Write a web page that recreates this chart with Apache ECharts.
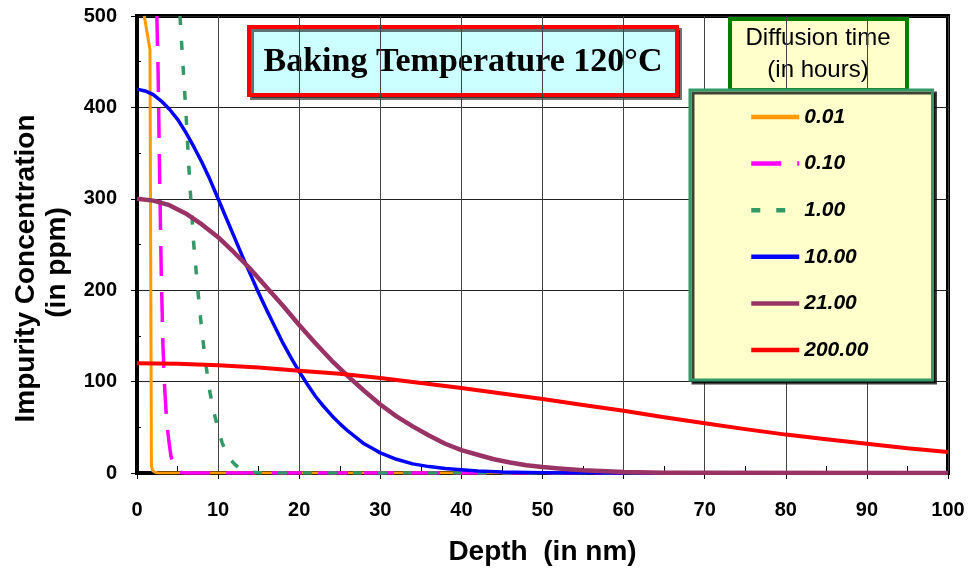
<!DOCTYPE html>
<html>
<head>
<meta charset="utf-8">
<script src="https://cdn.jsdelivr.net/npm/echarts@6/dist/echarts.min.js"></script>
<style>
  html, body { margin: 0; padding: 0; background: #fff; }
  #chart { width: 969px; height: 571px; }
</style>
</head>
<body>
<div id="chart"></div>
<script>
// Depth (nm) and impurity concentration (ppm) for each diffusion time
const depth001 = [0.9, 1.6, 1.78, 1.9, 2.2, 2.6, 100];
const conc001  = [500, 463, 8, 3, 1, 0, 0];

const depth010 = [2.45, 2.6, 2.8, 3.0, 3.2, 3.4, 3.6, 3.8, 4.0, 4.2, 4.4, 4.7, 5.0, 5.5, 6.0, 100];
const conc010  = [500, 440, 320, 215, 140, 95, 65, 45, 30, 18, 11, 5, 2, 0.5, 0, 0];

const depth1 = [5.3, 5.5, 6, 6.5, 7, 7.5, 8, 8.5, 9, 9.5, 10, 10.5, 11, 11.5, 12, 12.5, 13, 13.5, 14, 15, 16, 100];
const conc1  = [500, 470, 400, 318, 250, 200, 155, 118, 88, 66, 48, 33, 23, 15, 10, 6, 4, 2.5, 1, 0.3, 0, 0];

const depth10 = [0, 1, 2, 3, 4, 5, 6, 7, 8, 9, 10, 11, 12, 13, 14, 15, 16, 17, 18, 19, 20, 21, 22, 23, 24, 25, 26, 27, 28, 29, 30, 32, 34, 36, 38, 40, 42, 45, 50, 55, 100];
const conc10  = [420, 418, 414, 407, 398, 387, 373, 357, 340, 321, 300, 279, 258, 237, 217, 197, 178, 160, 142, 126, 111, 97, 84, 73, 63, 54, 46, 39, 32, 27, 22, 15, 10, 7, 5, 3.5, 2.3, 1.2, 0.4, 0, 0];

const depth21 = [0, 2, 4, 6, 8, 10, 12, 14, 16, 18, 20, 22, 24, 26, 28, 30, 32, 34, 36, 38, 40, 42, 44, 46, 48, 50, 52, 55, 60, 65, 100];
const conc21  = [300, 298, 293, 284, 272, 258, 241, 223, 203, 183, 162, 142, 123, 106, 90, 75, 62, 51, 41, 32, 25, 20, 15, 11.5, 8.5, 6.5, 5, 3, 1, 0.3, 0];

const depth200 = [0, 5, 10, 15, 20, 25, 30, 35, 40, 45, 50, 55, 60, 65, 70, 75, 80, 85, 90, 95, 100];
const conc200  = [120, 119.5, 118, 115.5, 112, 108.5, 104, 98.5, 93, 87, 81, 74.5, 68, 61, 54.5, 48, 42, 37, 32, 27, 23];

const timeLabels = ['0.01', '0.10', '1.00', '10.00', '21.00', '200.00'];
const xTicks = { min: 0, max: 100, step: 10 };
const yTicks = { min: 0, max: 500, step: 100 };

const SANS = 'Liberation Sans, Arial, sans-serif';
const SERIF = 'Liberation Serif, Times New Roman, serif';

function zip(xs, ys) { return xs.map((x, i) => [x, ys[i]]); }

const curves = [
  { name: timeLabels[0], xs: depth001, ys: conc001, color: '#FF9900', width: 3,   type: 'solid' },
  { name: timeLabels[1], xs: depth010, ys: conc010, color: '#FF00FF', width: 3.5, type: [30, 16] },
  { name: timeLabels[2], xs: depth1,   ys: conc1,   color: '#339966', width: 3.5, type: [9, 16] },
  { name: timeLabels[3], xs: depth10,  ys: conc10,  color: '#0000FF', width: 3.5, type: 'solid' },
  { name: timeLabels[4], xs: depth21,  ys: conc21,  color: '#993366', width: 4.5, type: 'solid' },
  { name: timeLabels[5], xs: depth200, ys: conc200, color: '#FF0000', width: 4,   type: 'solid' }
];

const chart = echarts.init(document.getElementById('chart'), null, { renderer: 'canvas' });

const nameFont = { fontFamily: SANS, fontWeight: 'bold', fontSize: 28, color: '#000' };

chart.setOption({
  animation: false,
  backgroundColor: '#ffffff',
  grid: {
    left: 137, right: 21, top: 16, bottom: 97,
    show: true, borderColor: '#000', borderWidth: 4, backgroundColor: 'transparent'
  },
  xAxis: {
    type: 'value',
    min: xTicks.min, max: xTicks.max, interval: xTicks.step,
    offset: 2,
    name: 'Depth  (in nm)',
    nameLocation: 'middle',
    nameGap: 63,
    nameTextStyle: Object.assign({ lineHeight: 28 }, nameFont),
    axisLine: { show: true, lineStyle: { color: '#000', width: 4 } },
    axisTick: { show: true, length: 6, lineStyle: { color: '#000', width: 1 } },
    minorTick: { show: true, splitNumber: 2, length: -7, lineStyle: { color: '#000', width: 1 } },
    splitLine: { show: true, lineStyle: { color: '#444', width: 1 } },
    axisLabel: { margin: 25, fontFamily: SANS, fontWeight: 'bold', fontSize: 20, color: '#000', lineHeight: 20 }
  },
  yAxis: {
    type: 'value',
    min: yTicks.min, max: yTicks.max, interval: yTicks.step,
    name: '{a|Impurity Concentration}\n{b|(in ppm)}',
    nameLocation: 'middle',
    nameGap: 58,
    nameRotate: 90,
    nameTextStyle: Object.assign({
      lineHeight: 31,
      rich: {
        a: Object.assign({ lineHeight: 31, padding: [0, 48, 0, 0] }, nameFont),
        b: Object.assign({ lineHeight: 31, padding: [0, 36, 0, 0] }, nameFont)
      }
    }, nameFont),
    axisLine: { show: true, lineStyle: { color: '#000', width: 4 } },
    axisTick: { show: true, length: 6, lineStyle: { color: '#000', width: 1 } },
    minorTick: { show: true, splitNumber: 2, length: -4, lineStyle: { color: '#000', width: 1 } },
    splitLine: { show: true, lineStyle: { color: '#222', width: 1 } },
    axisLabel: { margin: 20, fontFamily: SANS, fontWeight: 'bold', fontSize: 20, color: '#000' }
  },
  legend: {
    orient: 'vertical',
    left: 690, top: 90,
    padding: [16, 64, 19, 59],
    itemWidth: 48,
    itemHeight: 14,
    itemGap: 24.6,
    data: timeLabels,
    itemStyle: { opacity: 0 },
    lineStyle: { width: 4.5 },
    backgroundColor: '#FFFFCC',
    borderColor: '#339966',
    borderWidth: 3,
    borderRadius: 0,
    shadowColor: 'rgba(0,0,0,0.75)',
    shadowBlur: 0,
    shadowOffsetX: 3,
    shadowOffsetY: 3,
    textStyle: {
      fontFamily: SANS, fontWeight: 'bold', fontStyle: 'italic', fontSize: 21, color: '#000', lineHeight: 22
    },
    selectedMode: false,
    z: 10
  },
  graphic: [
    {
      type: 'group', z: 20,
      children: [
        {
          type: 'rect',
          shape: { x: 249, y: 27, width: 428, height: 68 },
          style: {
            fill: '#CCFFFF', stroke: '#FF0000', lineWidth: 4,
            shadowColor: 'rgba(0,0,0,0.55)', shadowBlur: 0, shadowOffsetX: 3, shadowOffsetY: 3
          }
        },
        {
          type: 'text',
          x: 463, y: 62,
          style: {
            text: 'Baking Temperature 120°C',
            fontFamily: SERIF, fontWeight: 'bold', fontSize: 34, fill: '#000',
            align: 'center', verticalAlign: 'middle'
          }
        }
      ]
    },
    {
      type: 'group', z: 5,
      children: [
        {
          type: 'rect',
          shape: { x: 730, y: 19, width: 177, height: 71 },
          style: { fill: '#FFFFCC', stroke: '#007F00', lineWidth: 4 }
        },
        {
          type: 'text',
          x: 818, y: 54,
          style: {
            text: 'Diffusion time\n(in hours)',
            fontFamily: SANS, fontSize: 24, lineHeight: 32, fill: '#000',
            align: 'center', verticalAlign: 'middle'
          }
        }
      ]
    }
  ],
  series: curves.map(c => ({
    name: c.name,
    type: 'line',
    z: 5,
    data: zip(c.xs, c.ys),
    symbol: 'none',
    clip: true,
    lineStyle: { color: c.color, width: c.width, type: c.type, cap: 'butt', join: 'round' },
    itemStyle: { color: c.color }
  }))
});
</script>
</body>
</html>
